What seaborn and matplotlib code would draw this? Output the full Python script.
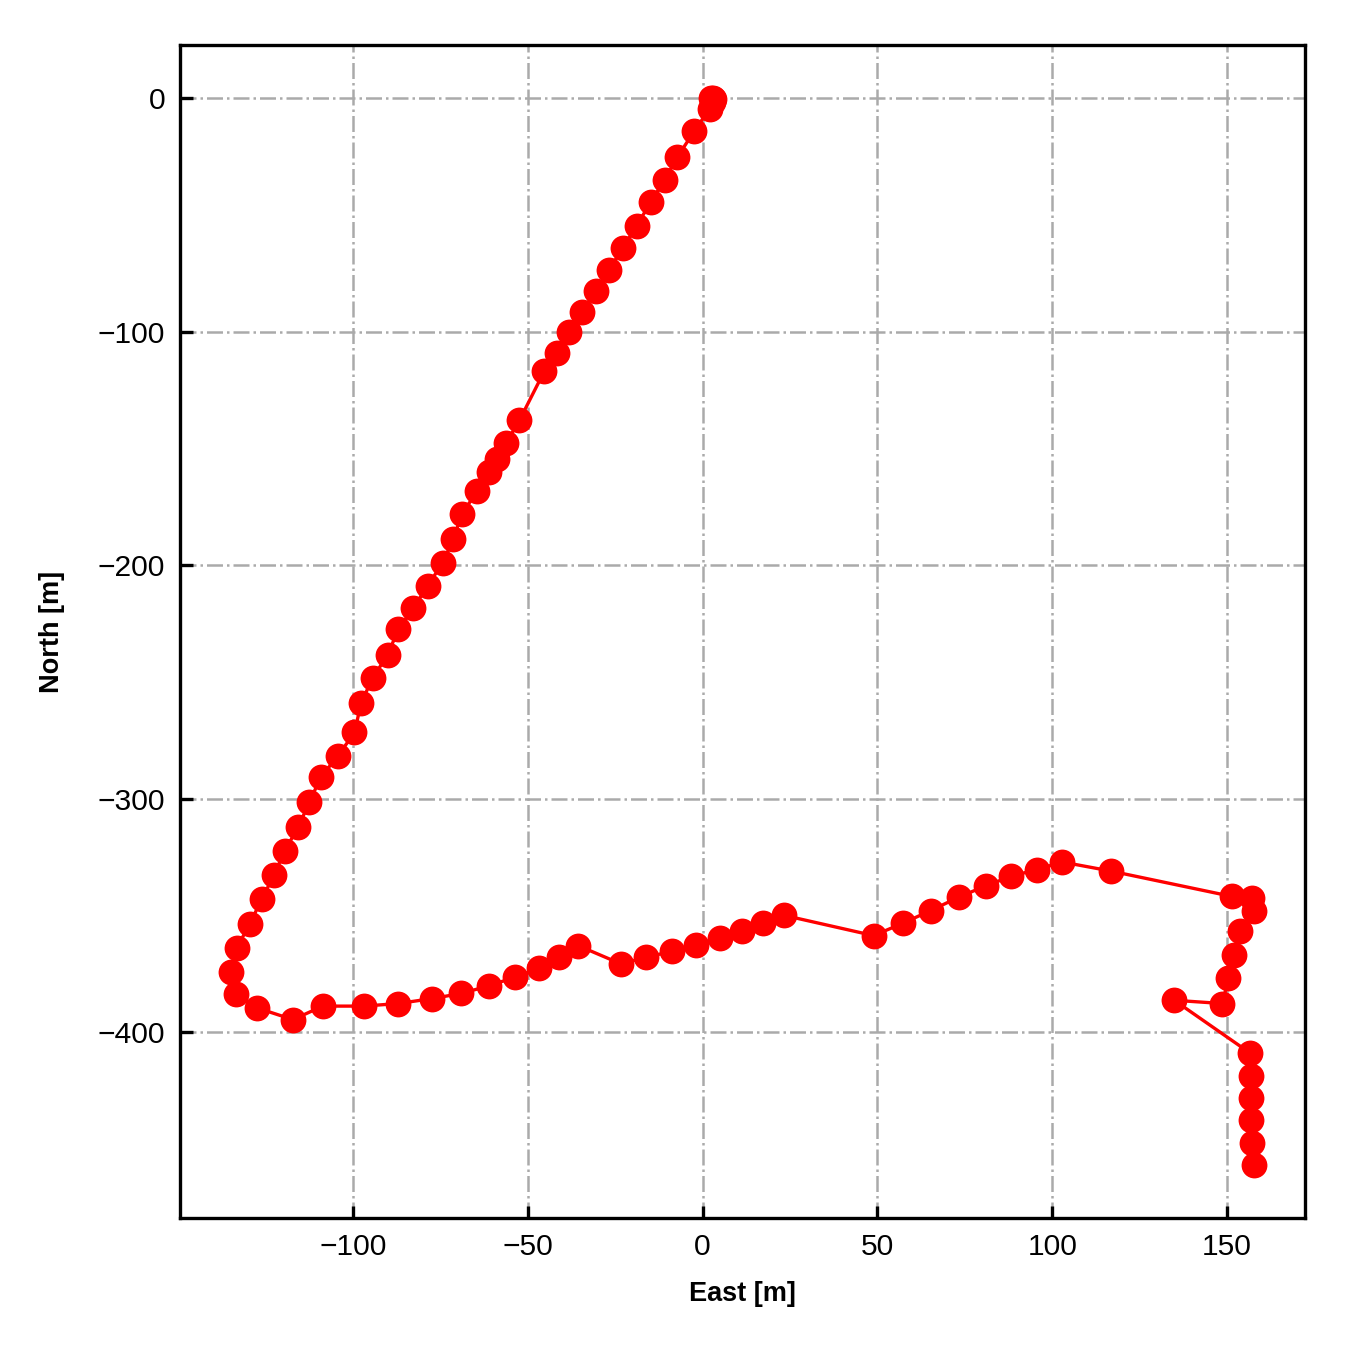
import numpy as np
import pandas as pd
import matplotlib
matplotlib.use("Agg")
import matplotlib.pyplot as plt
import seaborn as sns

# Trajectoire (East / North en mètres)
east = [2.5, 3.0, 3.3, 2.9, 2.0, -2.4, -7.3, -10.8, -14.9, -18.8, -22.9, -26.7, -30.5,
        -34.6, -38.2, -41.7, -45.3, -52.4, -56.2, -58.7, -61.1, -64.6, -68.9, -71.3,
        -74.4, -78.7, -82.8, -87.1, -90.1, -94.4, -97.7, -99.6, -104.4, -109.3, -112.5,
        -115.8, -119.6, -122.7, -126.1, -129.6, -133.2, -134.9, -133.6, -127.4, -117.2,
        -108.7, -96.9, -87.1, -77.5, -69.1, -61.1, -53.7, -46.8, -41.1, -35.6, -23.4,
        -16.1, -8.8, -1.8, 4.9, 11.3, 17.3, 23.2, 48.9, 57.3, 65.2, 73.2, 81.1, 88.3,
        95.6, 102.9, 116.9, 151.3, 157.1, 157.7, 153.7, 152.1, 150.4, 148.7, 134.9,
        156.6, 156.9, 156.9, 156.9, 157.2, 157.7]
north = [0.0, 0.0, -0.3, -1.5, -4.5, -14.1, -25.3, -34.8, -44.5, -54.5, -64.1, -73.4,
         -82.4, -91.5, -100.1, -109.1, -116.9, -137.9, -147.6, -154.5, -160.2, -168.4,
         -178.2, -188.6, -199.0, -208.9, -218.4, -227.5, -238.4, -248.2, -259.0, -271.6,
         -281.8, -290.8, -301.6, -312.3, -322.5, -332.8, -343.0, -353.6, -363.8, -374.1,
         -383.6, -389.6, -394.6, -388.8, -388.8, -387.7, -385.6, -383.4, -380.1, -376.4,
         -372.6, -367.9, -362.9, -370.7, -367.9, -365.3, -362.7, -359.6, -356.7, -353.4,
         -349.9, -358.6, -353.3, -347.9, -342.2, -337.2, -333.2, -330.3, -327.1, -331.0,
         -341.8, -342.5, -347.9, -356.7, -366.7, -376.7, -387.7, -386.3, -408.9, -418.8,
         -428.1, -437.7, -447.4, -456.7]

df = pd.DataFrame({"east": east, "north": north})

sns.set_style("white")
plt.rcParams['font.family'] = ['Liberation Sans', 'DejaVu Sans']
plt.rcParams['text.color'] = 'black'
plt.rcParams['axes.labelcolor'] = 'black'

fig = plt.figure(figsize=(4.5, 4.5), dpi=300)
ax = fig.add_axes([0.1333, 0.0978, 0.8334, 0.8689])

sns.lineplot(data=df, x="east", y="north", sort=False, estimator=None, ax=ax,
             color="red", linewidth=0.8, marker="o", markersize=6.2,
             markeredgewidth=0, markerfacecolor="red")

ax.grid(True, linestyle="-.", color="#aaaaaa", linewidth=0.6)
ax.set_xlabel("East [m]", fontsize=6.5, fontweight="bold", labelpad=5)
ax.set_ylabel("North [m]", fontsize=6.5, fontweight="bold", labelpad=8)
ax.tick_params(direction="in", length=3, width=0.8, labelsize=7.2,
               left=True, bottom=True, colors="black")
for s in ax.spines.values():
    s.set_color("black")
    s.set_linewidth(0.8)

fig.savefig("out.png", dpi=300)
